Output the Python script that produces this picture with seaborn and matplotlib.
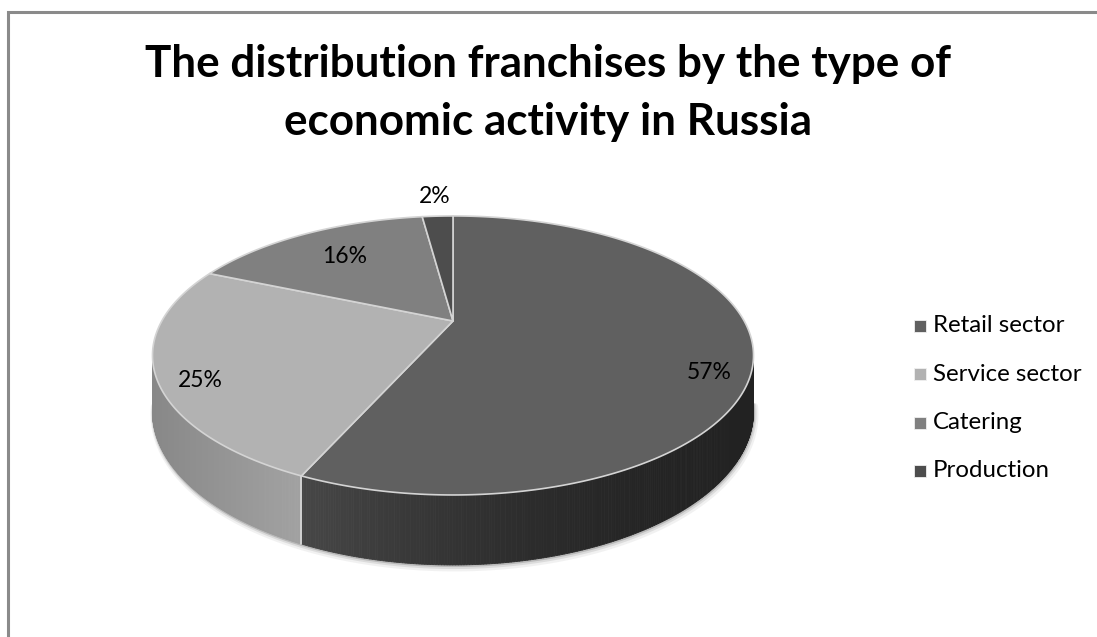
import numpy as np
import matplotlib
matplotlib.use("Agg")
import matplotlib.pyplot as plt
import seaborn as sns
from matplotlib.collections import PolyCollection

# ---------------- data ----------------
categories = ["Retail sector", "Service sector", "Catering", "Production"]
shares = [56.6, 24.9, 16.4, 2.1]          # estimated from slice geometry
title_lines = ["The distribution franchises by the type of",
               "economic activity in Russia"]
pct_labels = ["{:d}%".format(int(round(s))) for s in shares]

# ---------------- style ----------------
sns.set_theme(style="white")
plt.rcParams["font.family"] = ["Lato", "DejaVu Sans"]

top_colors = sns.color_palette(["#606060", "#b2b2b2", "#808080", "#4d4d4d"])
side_left = ["#474747", "#888888", "#6a6a6a", "#404040"]
side_right = ["#222222", "#a2a2a2", "#6a6a6a", "#404040"]
edge_col = "#d4d4d4"

W, H = 1097, 637
fig = plt.figure(figsize=(W / 100, H / 100), dpi=100)
ax = fig.add_axes([0, 0, 1, 1])
ax.set_xlim(0, W)
ax.set_ylim(H, 0)
ax.axis("off")

# frame
ax.plot([8, 8, W + 5], [H + 5, 12, 12], color="#8a8a8a", lw=2.2, clip_on=False,
        solid_joinstyle="miter")

# ---------------- pie geometry (perspective) ----------------
CX, CY = 453.0, 321.0
A, B, K = 291.2, 131.0, 0.247
DEPTH = 52.7


def proj(theta, r=1.0):
    th = np.radians(theta)
    u = r * np.sin(th)
    v = -r * np.cos(th)
    d = 1 - K * v
    return CX + A * u / d, CY + B * v / d


def depth(theta):
    v = -np.cos(np.radians(theta))
    return DEPTH / (1 - K * v)


def hex2rgb(h):
    h = h.lstrip("#")
    return np.array([int(h[i:i + 2], 16) for i in (0, 2, 4)]) / 255.0


bounds = np.concatenate([[0], np.cumsum(shares)]) / float(sum(shares)) * 360.0
vis_lo = np.degrees(np.arccos(-K))
vis_hi = 360.0 - vis_lo

# soft shadow under the rim
th_all = np.linspace(vis_lo - 3, vis_hi + 3, 400)
sx, sy = proj(th_all)
sd = depth(th_all)
for off, lw, al in [(3, 5, 0.10), (2, 3, 0.18), (1, 1.6, 0.35)]:
    ax.plot(sx + off * 0.5, sy + sd + off, color="#7a7a7a", lw=lw, alpha=al,
            solid_capstyle="round", zorder=1)

# side walls
for i in range(len(shares)):
    a0 = max(bounds[i], vis_lo)
    a1 = min(bounds[i + 1], vis_hi)
    if a1 <= a0:
        continue
    th = np.linspace(a0, a1, 240)
    xs, ys = proj(th)
    ds = depth(th)
    xmin, xmax = xs.min(), xs.max()
    cl, cr = hex2rgb(side_left[i]), hex2rgb(side_right[i])
    polys, cols = [], []
    for j in range(len(th) - 1):
        xm = 0.5 * (xs[j] + xs[j + 1])
        t = (xm - xmin) / max(xmax - xmin, 1e-6)
        if i == 0:
            t = 1 - (1 - t) ** 1.8
        c = cl + (cr - cl) * t
        polys.append([(xs[j], ys[j]), (xs[j + 1], ys[j + 1]),
                      (xs[j + 1], ys[j + 1] + ds[j + 1]), (xs[j], ys[j] + ds[j])])
        cols.append(c)
    pc = PolyCollection(polys, facecolors=cols, edgecolors=cols, linewidths=0.6, zorder=2)
    ax.add_collection(pc)

# boundaries on the side wall
for b in bounds[1:-1]:
    if vis_lo < b < vis_hi:
        bx, by = proj(b)
        ax.plot([bx, bx], [by, by + depth(b)], color=edge_col, lw=1.3, zorder=3)

# top faces
for i in range(len(shares)):
    th = np.linspace(bounds[i], bounds[i + 1], max(int((bounds[i + 1] - bounds[i]) * 2), 8))
    xs, ys = proj(th)
    px = np.concatenate([[CX], xs])
    py = np.concatenate([[CY], ys])
    ax.fill(px, py, facecolor=top_colors[i], edgecolor=edge_col, lw=1.2, zorder=4,
            joinstyle="round")

fig.canvas.draw()
renderer = fig.canvas.get_renderer()


def fit(t, target_w):
    bb = t.get_window_extent(renderer)
    t.set_fontsize(t.get_fontsize() * target_w / bb.width)


# percentage labels (layout constants)
label_r = [0.86, 0.86, 0.70, 1.25]
label_dy = [27, 15, 0, 0]
ref = ax.text(0, 0, "57%", fontsize=16, color="black")
fit(ref, 45)
lab_fs = ref.get_fontsize()
ref.remove()
for i, lab in enumerate(pct_labels):
    mid = 0.5 * (bounds[i] + bounds[i + 1])
    lx, ly = proj(mid, label_r[i])
    ax.text(lx, ly + label_dy[i], lab, fontsize=lab_fs, color="black",
            ha="center", va="center", zorder=6)

# legend
ref = ax.text(0, 0, "Service sector", fontsize=16, color="black")
fit(ref, 149)
leg_fs = ref.get_fontsize()
ref.remove()
leg_y0, leg_step = 326.0, 48.3
for i, cat in enumerate(categories):
    yy = leg_y0 + i * leg_step
    ax.scatter([920], [yy], marker="s", s=(11.5 * 0.72) ** 2, color=top_colors[i],
               edgecolors="#f0f0f0", linewidths=0.6, zorder=6)
    ax.text(933, yy, cat, fontsize=leg_fs, color="black", ha="left", va="center", zorder=6)

# title
t1 = ax.text(548, 0, title_lines[0], fontsize=30, fontweight="bold", color="black",
             ha="center", va="baseline")
fit(t1, 805)
tfs = t1.get_fontsize()
em = tfs * 100 / 72.0
base1 = 45 + 0.72 * em
t1.set_y(base1)
ax.text(548, base1 + 58, title_lines[1], fontsize=tfs, fontweight="bold",
        color="black", ha="center", va="baseline")

fig.savefig("out.png", dpi=100)
